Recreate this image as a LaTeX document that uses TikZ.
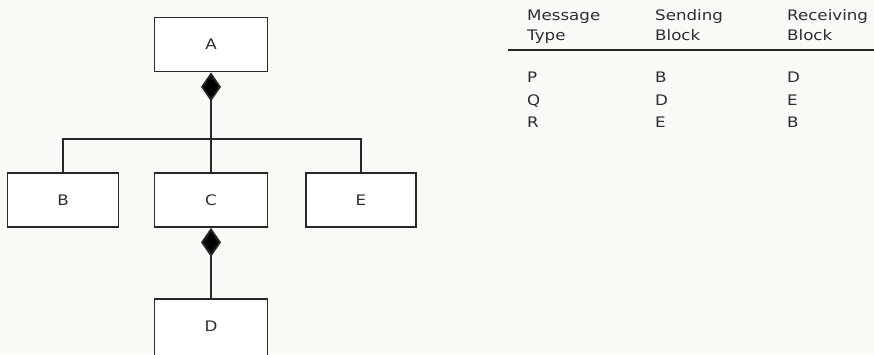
\documentclass[tikz,border=0pt]{standalone}
\usepackage{fontspec}
\setmainfont{DejaVu Sans}[FakeStretch=1.15]
\usetikzlibrary{arrows.meta}
\definecolor{bg}{RGB}{250,250,247}
\definecolor{ink}{RGB}{40,40,40}
\definecolor{txt}{RGB}{45,45,45}
\begin{document}
\begin{tikzpicture}[x=1pt,y=-1pt,
  block/.style={draw=ink, line width=1.7pt, fill=white, minimum height=54pt, inner sep=0pt, text=txt, font=\fontsize{14.5}{17}\selectfont},
  conn/.style={draw=ink, line width=1.8pt},
  comp/.style={conn, {Diamond[length=29pt,width=20pt,fill=black]}-},
  cell/.style={anchor=base west, inner sep=0pt, text=txt, font=\fontsize{14.5}{17}\selectfont}]
\useasboundingbox (0,0) rectangle (874,354);
\clip (0,0) rectangle (874,354);
\fill[bg] (0,0) rectangle (874,354);
% blocks
\node[block, minimum width=113pt] (A) at (211,44.5) {A};
\node[block, minimum width=111pt] (B) at (63,200) {B};
\node[block, minimum width=113pt] (C) at (211,200) {C};
\node[block, minimum width=110pt] (E) at (361,200) {E};
\node[block, minimum width=113pt, minimum height=62pt] (D) at (211,330) {};
\node[text=txt, font=\fontsize{14.5}{17}\selectfont] (Dl) at (211,326) {D};
\coordinate (bus) at (211,139);
% connectors
\draw[comp] (A.south) -- (C.north);
\draw[conn] (B.north) |- (bus) -| (E.north);
\draw[comp] (C.south) -- (D.north);
% table
\node[cell] (h1a) at (527,20) {Message};
\node[cell] (h1b) at (527,40) {Type};
\node[cell] (h2a) at (655,20) {Sending};
\node[cell] (h2b) at (655,40) {Block};
\node[cell] (h3a) at (787,20) {Receiving};
\node[cell] (h3b) at (787,40) {Block};
\coordinate (rl) at (508,50);
\coordinate (rr) at (874,50);
\draw[conn] (rl) -- (rr);
\node[cell] (p1) at (527,82) {P};
\node[cell] (p2) at (655,82) {B};
\node[cell] (p3) at (787,82) {D};
\node[cell] (q1) at (527,105) {Q};
\node[cell] (q2) at (655,105) {D};
\node[cell] (q3) at (787,105) {E};
\node[cell] (r1) at (527,127) {R};
\node[cell] (r2) at (655,127) {E};
\node[cell] (r3) at (787,127) {B};
\end{tikzpicture}
\end{document}
